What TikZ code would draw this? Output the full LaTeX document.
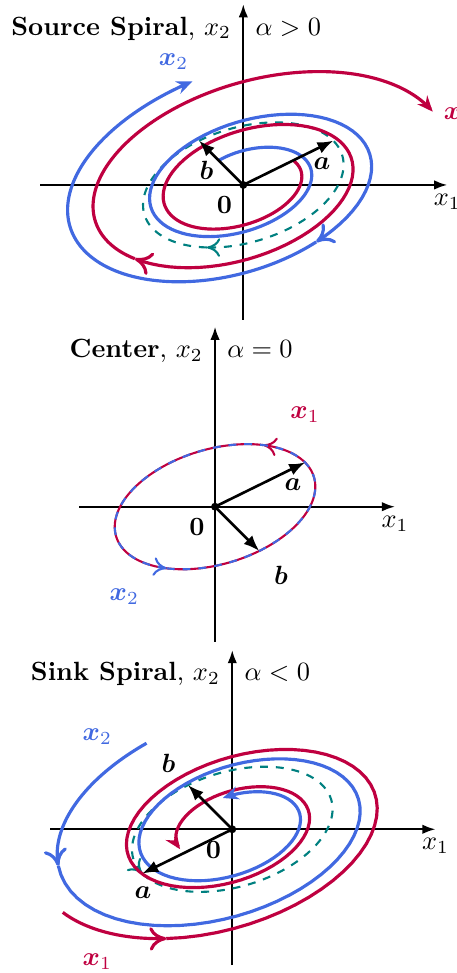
\documentclass[tikz,border=0pt]{standalone}
\usepackage{amsmath,amssymb}
\usepackage{xcolor}
\usepackage{tikz}
\usetikzlibrary{arrows.meta}
\definecolor{xonered}{rgb}{0.75,0,0.25}
\definecolor{xtwoblue}{HTML}{4169E1}

\tikzset{
  declare function={ellx(\t)=1.2*cos(\t r)+0.59*sin(\t r);
                    elly(\t)=0.59*cos(\t r)-0.59*sin(\t r);},
  axis/.style={thick,-{Latex[length=5pt,width=3.6pt]}},
  vec/.style={line width=1pt,-{Latex[length=6pt,width=4.6pt]}},
  xone/.style={xonered,very thick},
  xtwo/.style={xtwoblue,very thick},
  unitloop/.style={teal,thick,dashed},
  midtip/.style={-{Computer Modern Rightarrow[scale length=1.5,scale width=1]}},
  endtip/.style={-{Stealth[length=6pt,width=5pt]}},
  titleleft/.style={anchor=north east,inner sep=4.5pt,text height=7pt,text depth=2.5pt},
  titleright/.style={anchor=north west,inner sep=4.5pt,text height=7pt,text depth=2.5pt},
}

\begin{document}
\begin{tikzpicture}[samples=120]
    \useasboundingbox (0,0) rectangle (6.08,12.973);

    % Source spiral: both trajectories wind outward, clockwise.
    \begin{scope}[shift={(3.244,10.507)}]
      \coordinate (srcO) at (0,0);
      \coordinate (srcW) at (-2.71,0);
      \coordinate (srcE) at (2.72,0);
      \coordinate (srcS) at (0,-1.8);
      \coordinate (srcN) at (0,2.41);
      \coordinate (srcA) at (1.2,0.59);
      \coordinate (srcB) at (-0.59,0.59);
      \draw[axis] (srcW) -- (srcE);
      \draw[axis] (srcS) -- (srcN);
      \node[below] (srcxlab) at (srcE) {$x_1$};
      \node[titleleft] (srctitle) at (srcN) {\textbf{Source Spiral}, $x_2$};
      \node[titleright] (srcalpha) at (srcN) {$\alpha>0$};
      \draw[unitloop,midtip] plot[domain=-3.883:2.4] ({ellx(\x)},{elly(\x)});
      \draw[xone,midtip] plot[domain=0:9.2]
        ({0.555*exp(0.1*\x)*ellx(\x)},{0.555*exp(0.1*\x)*elly(\x)});
      \draw[xone,endtip] plot[domain=9.2:12.72]
        ({0.555*exp(0.1*\x)*ellx(\x)},{0.555*exp(0.1*\x)*elly(\x)});
      \draw[xtwo,midtip] plot[domain=-1.571:7.77]
        ({0.649*exp(0.1*\x)*ellx(\x)},{0.649*exp(0.1*\x)*elly(\x)});
      \draw[xtwo,endtip] plot[domain=7.77:11.196]
        ({0.649*exp(0.1*\x)*ellx(\x)},{0.649*exp(0.1*\x)*elly(\x)});
      \draw[vec] (srcO) -- (srcA);
      \draw[vec] (srcO) -- (srcB);
      \fill (srcO) circle (1.5pt);
      \node (srcalab) at (1.05,0.28) {$\boldsymbol{a}$};
      \node (srcblab) at (-0.49,0.19) {$\boldsymbol{b}$};
      \node (srcolab) at (-0.25,-0.27) {$\mathbf{0}$};
      \node[xonered] (srcxonelab) at (2.87,0.93) {$\boldsymbol{x}_1$};
      \node[xtwoblue] (srcxtwolab) at (-0.93,1.65) {$\boldsymbol{x}_2$};
    \end{scope}

    % Center: one closed ellipse, both trajectories on it, counterclockwise.
    \begin{scope}[shift={(2.867,6.217)}]
      \coordinate (ctrO) at (0,0);
      \coordinate (ctrW) at (-1.81,0);
      \coordinate (ctrE) at (2.4,0);
      \coordinate (ctrS) at (0,-1.8);
      \coordinate (ctrN) at (0,2.4);
      \coordinate (ctrA) at (1.2,0.59);
      \coordinate (ctrB) at (0.59,-0.59);
      \draw[axis] (ctrW) -- (ctrE);
      \draw[axis] (ctrS) -- (ctrN);
      \node[below] (ctrxlab) at (ctrE) {$x_1$};
      \node[titleleft] (ctrtitle) at (ctrN) {\textbf{Center}, $x_2$};
      \node[titleright] (ctralpha) at (ctrN) {$\alpha=0$};
      \draw[xonered,thick,midtip] plot[domain=-5.673:0.61] ({ellx(-\x)},{elly(-\x)});
      \draw[xtwoblue,thick,dashed,midtip] plot[domain=-8.813:-2.53] ({ellx(-\x)},{elly(-\x)});
      \draw[vec] (ctrO) -- (ctrA);
      \draw[vec] (ctrO) -- (ctrB);
      \fill (ctrO) circle (1.5pt);
      \node (ctralab) at (1.04,0.29) {$\boldsymbol{a}$};
      \node (ctrblab) at (0.88,-0.91) {$\boldsymbol{b}$};
      \node (ctrolab) at (-0.24,-0.27) {$\mathbf{0}$};
      \node[xonered] (ctrxonelab) at (1.2,1.23) {$\boldsymbol{x}_1$};
      \node[xtwoblue] (ctrxtwolab) at (-1.21,-1.2) {$\boldsymbol{x}_2$};
    \end{scope}

    % Sink spiral: both trajectories wind inward, counterclockwise.
    \begin{scope}[shift={(3.097,1.916)}]
      \coordinate (snkO) at (0,0);
      \coordinate (snkW) at (-2.43,0);
      \coordinate (snkE) at (2.71,0);
      \coordinate (snkS) at (0,-1.81);
      \coordinate (snkN) at (0,2.39);
      \coordinate (snkA) at (-1.2,-0.59);
      \coordinate (snkB) at (-0.59,0.59);
      \draw[axis] (snkW) -- (snkE);
      \draw[axis] (snkS) -- (snkN);
      \node[below] (snkxlab) at (snkE) {$x_1$};
      \node[titleleft] (snktitle) at (snkN) {\textbf{Sink Spiral}, $x_2$};
      \node[titleright] (snkalpha) at (snkN) {$\alpha<0$};
      \draw[unitloop,midtip] plot[domain=-9.425:-3.1416] ({ellx(-\x)},{elly(-\x)});
      \draw[xone,midtip] plot[domain=-15.71:-14.98]
        ({0.391*exp(-0.1*\x)*ellx(-\x)},{0.391*exp(-0.1*\x)*elly(-\x)});
      \draw[xone,endtip] plot[domain=-14.98:-3.3]
        ({0.391*exp(-0.1*\x)*ellx(-\x)},{0.391*exp(-0.1*\x)*elly(-\x)});
      \draw[xtwo,midtip] plot[domain=-17.28:-16.15]
        ({0.345*exp(-0.1*\x)*ellx(-\x)},{0.345*exp(-0.1*\x)*elly(-\x)});
      \draw[xtwo,endtip] plot[domain=-16.15:-5.0]
        ({0.345*exp(-0.1*\x)*ellx(-\x)},{0.345*exp(-0.1*\x)*elly(-\x)});
      \draw[vec] (snkO) -- (snkA);
      \draw[vec] (snkO) -- (snkB);
      \fill (snkO) circle (1.5pt);
      \node (snkalab) at (-1.19,-0.84) {$\boldsymbol{a}$};
      \node (snkblab) at (-0.85,0.88) {$\boldsymbol{b}$};
      \node (snkolab) at (-0.25,-0.27) {$\mathbf{0}$};
      \node[xonered] (snkxonelab) at (-1.8,-1.77) {$\boldsymbol{x}_1$};
      \node[xtwoblue] (snkxtwolab) at (-1.8,1.23) {$\boldsymbol{x}_2$};
    \end{scope}
\end{tikzpicture}
\end{document}
